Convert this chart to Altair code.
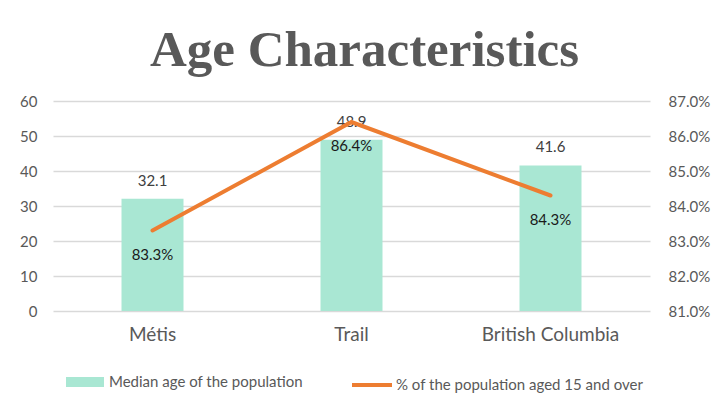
import altair as alt
import pandas as pd

categories = ["Métis", "Trail", "British Columbia"]
median_age = [32.1, 48.9, 41.6]
pct_15_over = [0.833, 0.864, 0.843]
bar_series = "Median age of the population"
line_series = "% of the population aged 15 and over"

df = pd.DataFrame({
    "category": categories,
    "median_age": median_age,
    "pct": pct_15_over,
    "s1": [bar_series] * 3,
    "s2": [line_series] * 3,
})

FONT = "Lato"
GREY = "#595959"

x_enc = alt.X("category:N", sort=categories,
              scale=alt.Scale(paddingInner=0, paddingOuter=0),
              axis=alt.Axis(title=None, labelAngle=0, labelFontSize=19, labelColor=GREY,
                            labelFont=FONT, ticks=False, domain=False, labelPadding=14))

y_left = alt.Y("median_age:Q", scale=alt.Scale(domain=[0, 60]),
               axis=alt.Axis(title=None, values=[0, 10, 20, 30, 40, 50, 60], labelFontSize=15,
                             labelColor=GREY, labelFont=FONT, ticks=False, domain=False,
                             labelPadding=16, gridColor="#D9D9D9", gridWidth=1.3))

bars = alt.Chart(df).mark_bar(size=62).encode(
    x=x_enc,
    y=y_left,
    fill=alt.Fill("s1:N", scale=alt.Scale(range=["#A9E7D3"]),
                  legend=alt.Legend(title=None, orient="none", legendX=13, legendY=262,
                                    symbolType="M-1,-0.26H1V0.26H-1Z", symbolSize=1444,
                                    symbolStrokeWidth=0, labelFont=FONT, labelFontSize=15,
                                    labelColor=GREY, labelOffset=5, labelLimit=0)),
)
bar_text = alt.Chart(df).mark_text(dy=-18, fontSize=15, font=FONT, color="#404040").encode(
    x=x_enc,
    y=y_left,
    text=alt.Text("median_age:Q", format=".1f"),
)

y_right = alt.Y("pct:Q", scale=alt.Scale(domain=[0.81, 0.87]),
                axis=alt.Axis(title=None, orient="right", format=".1%",
                              values=[0.81, 0.82, 0.83, 0.84, 0.85, 0.86, 0.87],
                              labelFontSize=15, labelColor=GREY, labelFont=FONT, ticks=False,
                              domain=False, grid=False, labelPadding=18))

line = alt.Chart(df).mark_line(strokeWidth=4, strokeCap="round").encode(
    x=x_enc,
    y=y_right,
    stroke=alt.Stroke("s2:N", scale=alt.Scale(range=["#ED7D31"]),
                      legend=alt.Legend(title=None, orient="none", legendX=297, legendY=262,
                                        symbolType="stroke", symbolSize=1600,
                                        symbolStrokeWidth=4, labelFont=FONT, labelFontSize=15,
                                        labelColor=GREY, labelOffset=2, labelLimit=0)),
)
line_text = alt.Chart(df).mark_text(dy=24, fontSize=15, font=FONT, color="#1a1a1a").encode(
    x=x_enc,
    y=y_right,
    text=alt.Text("pct:Q", format=".1%"),
)

chart = alt.layer(
    alt.layer(bars, bar_text),
    alt.layer(line, line_text),
).resolve_scale(y="independent").properties(
    width=597,
    height=210,
    autosize=alt.AutoSizeParams(type="none"),
    padding={"left": 45, "top": 93, "right": 63, "bottom": 90},
    title=alt.Title("Age Characteristics", font="Liberation Serif", fontSize=51,
                    fontWeight="bold", color=GREY, anchor="middle", dx=13, dy=45,
                    baseline="alphabetic", offset=22),
).configure_view(stroke=None)

chart.save("out.html", embed_options={"renderer": "svg", "actions": False})
